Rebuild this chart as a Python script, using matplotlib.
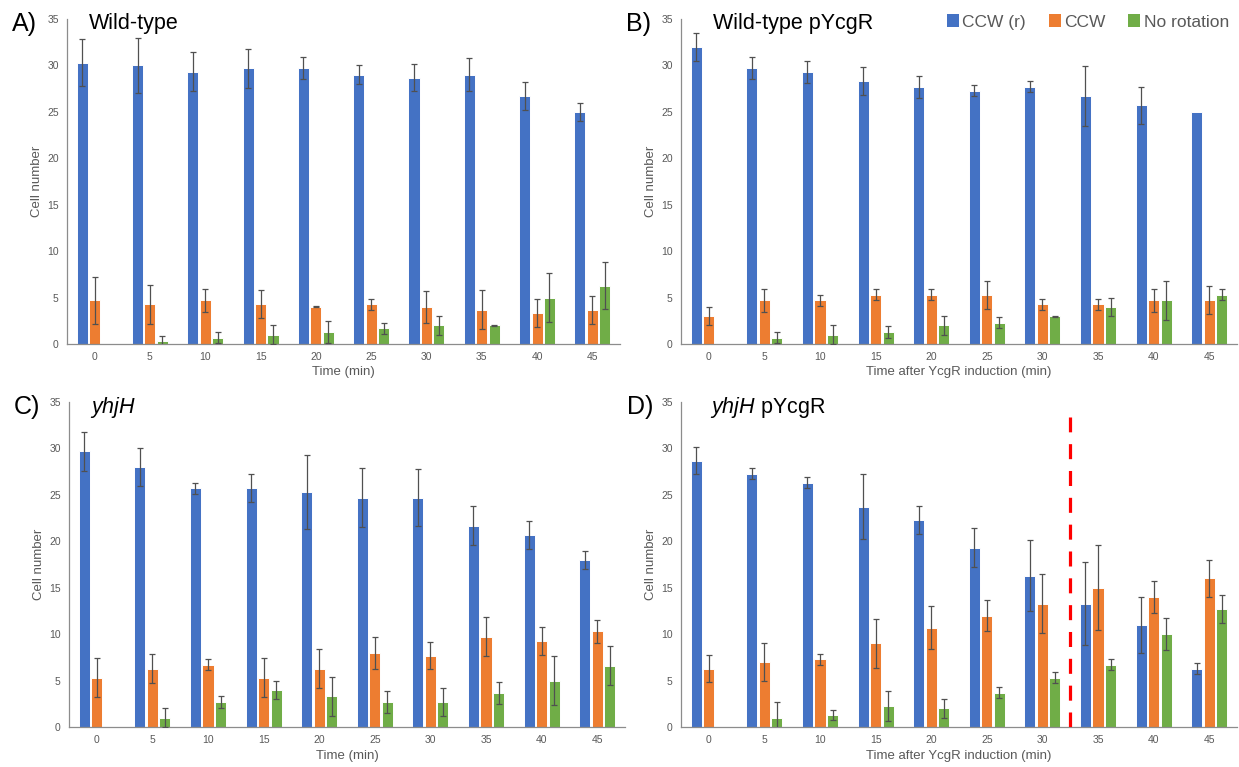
import numpy as np
import matplotlib
matplotlib.use("Agg")
import matplotlib.pyplot as plt
from matplotlib.patches import Patch

plt.rcParams['font.family'] = ['Liberation Sans', 'DejaVu Sans']
plt.rcParams['mathtext.fontset'] = 'custom'
plt.rcParams['mathtext.it'] = 'Liberation Sans:italic'
plt.rcParams['mathtext.rm'] = 'Liberation Sans'

times = [0, 5, 10, 15, 20, 25, 30, 35, 40, 45]
series_names = ["CCW (r)", "CCW", "No rotation"]
colors = ["#4472C4", "#ED7D31", "#70AD47"]

# A) Wild-type
a_ccwr = [30.3, 30.0, 29.3, 29.7, 29.7, 29.0, 28.7, 29.0, 26.7, 25.0]
a_ccwr_err = [2.5, 3.0, 2.1, 2.1, 1.2, 1.0, 1.5, 1.8, 1.5, 1.0]
a_ccw = [4.7, 4.3, 4.7, 4.3, 4.0, 4.3, 4.0, 3.7, 3.3, 3.7]
a_ccw_err = [2.5, 2.1, 1.2, 1.5, 0.05, 0.6, 1.7, 2.1, 1.5, 1.5]
a_none = [0, 0.3, 0.7, 1.0, 1.3, 1.7, 2.0, 2.0, 5.0, 6.3]
a_none_err = [0, 0.6, 0.6, 1.0, 1.2, 0.6, 1.0, 0.05, 2.6, 2.5]

# B) Wild-type pYcgR
b_ccwr = [32.0, 29.7, 29.3, 28.3, 27.7, 27.3, 27.7, 26.7, 25.7, 25.0]
b_ccwr_err = [1.5, 1.2, 1.2, 1.5, 1.2, 0.6, 0.6, 3.2, 2.0, 0]
b_ccw = [3.0, 4.7, 4.7, 5.3, 5.3, 5.3, 4.3, 4.3, 4.7, 4.7]
b_ccw_err = [1.0, 1.2, 0.6, 0.6, 0.6, 1.5, 0.6, 0.6, 1.2, 1.5]
b_none = [0, 0.7, 1.0, 1.3, 2.0, 2.3, 3.0, 4.0, 4.7, 5.3]
b_none_err = [0, 0.6, 1.0, 0.6, 1.0, 0.6, 0.05, 1.0, 2.1, 0.6]

# C) yhjH
c_ccwr = [29.7, 28.0, 25.7, 25.7, 25.3, 24.7, 24.7, 21.7, 20.7, 18.0]
c_ccwr_err = [2.1, 2.0, 0.6, 1.5, 4.0, 3.2, 3.1, 2.1, 1.5, 1.0]
c_ccw = [5.3, 6.3, 6.7, 5.3, 6.3, 8.0, 7.7, 9.7, 9.3, 10.3]
c_ccw_err = [2.1, 1.6, 0.6, 2.1, 2.1, 1.7, 1.5, 2.1, 1.5, 1.2]
c_none = [0, 1.0, 2.7, 4.0, 3.3, 2.7, 2.7, 3.7, 5.0, 6.6]
c_none_err = [0, 1.0, 0.6, 1.0, 2.1, 1.2, 1.5, 1.2, 2.6, 2.1]

# D) yhjH pYcgR
d_ccwr = [28.7, 27.3, 26.3, 23.7, 22.3, 19.3, 16.3, 13.3, 11.0, 6.3]
d_ccwr_err = [1.5, 0.6, 0.6, 3.5, 1.5, 2.1, 3.8, 4.5, 3.0, 0.6]
d_ccw = [6.3, 7.0, 7.3, 9.0, 10.7, 12.0, 13.3, 15.0, 14.0, 16.0]
d_ccw_err = [1.5, 2.0, 0.6, 2.6, 2.3, 1.7, 3.2, 4.6, 1.7, 2.0]
d_none = [0, 1.0, 1.3, 2.3, 2.0, 3.7, 5.3, 6.7, 10.0, 12.7]
d_none_err = [0, 1.7, 0.5, 1.6, 1.0, 0.6, 0.6, 0.6, 1.7, 1.5]

panels = [
    ("A)", "Wild-type", "Time (min)",
     [a_ccwr, a_ccw, a_none], [a_ccwr_err, a_ccw_err, a_none_err]),
    ("B)", "Wild-type pYcgR", "Time after YcgR induction (min)",
     [b_ccwr, b_ccw, b_none], [b_ccwr_err, b_ccw_err, b_none_err]),
    ("C)", r"$\mathit{yhjH}$", "Time (min)",
     [c_ccwr, c_ccw, c_none], [c_ccwr_err, c_ccw_err, c_none_err]),
    ("D)", r"$\mathit{yhjH}$ pYcgR", "Time after YcgR induction (min)",
     [d_ccwr, d_ccw, d_none], [d_ccwr_err, d_ccw_err, d_none_err]),
]

W, H = 1239, 767
fig = plt.figure(figsize=(W / 100, H / 100), dpi=100)

# axes boxes in pixels: left, right, top (y=35), bottom (y=0)
boxes = [(67, 620, 19, 344), (681, 1237, 19, 344),
         (69, 625, 402, 727), (681, 1237, 402, 727)]
# letter and title x positions in pixels
letter_x = [12, 626, 14, 627]
title_x = [89, 713, 90, 710]

gray = "#595959"
x = np.arange(len(times))
width = 0.2
offsets = [-0.225, 0, 0.225]

for i, ((letter, title, xlabel, vals, errs), (l, r, t, b)) in enumerate(zip(panels, boxes)):
    ax = fig.add_axes([l / W, 1 - b / H, (r - l) / W, (b - t) / H])
    for k in range(3):
        v = np.array(vals[k], dtype=float)
        e = np.array(errs[k], dtype=float)
        ax.bar(x + offsets[k], v, width, color=colors[k], edgecolor="white",
               linewidth=0.7, zorder=2)
        m = e > 0
        ax.errorbar(x[m] + offsets[k], v[m], yerr=e[m], fmt="none",
                    ecolor="#505050", elinewidth=0.9, capsize=2.2,
                    capthick=0.9, zorder=3)
    ax.set_xlim(-0.5, len(times) - 0.5)
    ax.set_ylim(0, 35)
    ax.set_yticks(range(0, 36, 5))
    ax.set_xticks(x)
    ax.set_xticklabels([str(tm) for tm in times])
    ax.tick_params(length=0, labelsize=7.5, labelcolor=gray, pad=6)
    for s in ["top", "right"]:
        ax.spines[s].set_visible(False)
    for s in ["left", "bottom"]:
        ax.spines[s].set_color("#8c8c8c")
        ax.spines[s].set_linewidth(0.9)
    ax.set_ylabel("Cell number", fontsize=9.5, color=gray, labelpad=3)
    ax.set_xlabel(xlabel, fontsize=9.5, color=gray, labelpad=3)
    fig.text(letter_x[i] / W, 1 - (t + 5) / H, letter, fontsize=18,
             va="center", ha="left")
    fig.text(title_x[i] / W, 1 - (t + 5) / H, title, fontsize=15.5,
             va="center", ha="left")
    if letter == "D)":
        ax.vlines(6.5, 0, 33.4, color="red", linewidth=2.3,
                  linestyles=(0, (4.7, 3.7)), zorder=4)

handles = [Patch(facecolor=c, edgecolor="none") for c in colors]
fig.legend(handles, series_names, loc="center right",
           bbox_to_anchor=(1236 / W, 1 - 22 / H), ncol=3, frameon=False,
           fontsize=12.5, labelcolor=gray, handlelength=0.7, handleheight=0.7,
           handletextpad=0.2, columnspacing=1.3, borderaxespad=0)

fig.savefig("out.png", dpi=100)
